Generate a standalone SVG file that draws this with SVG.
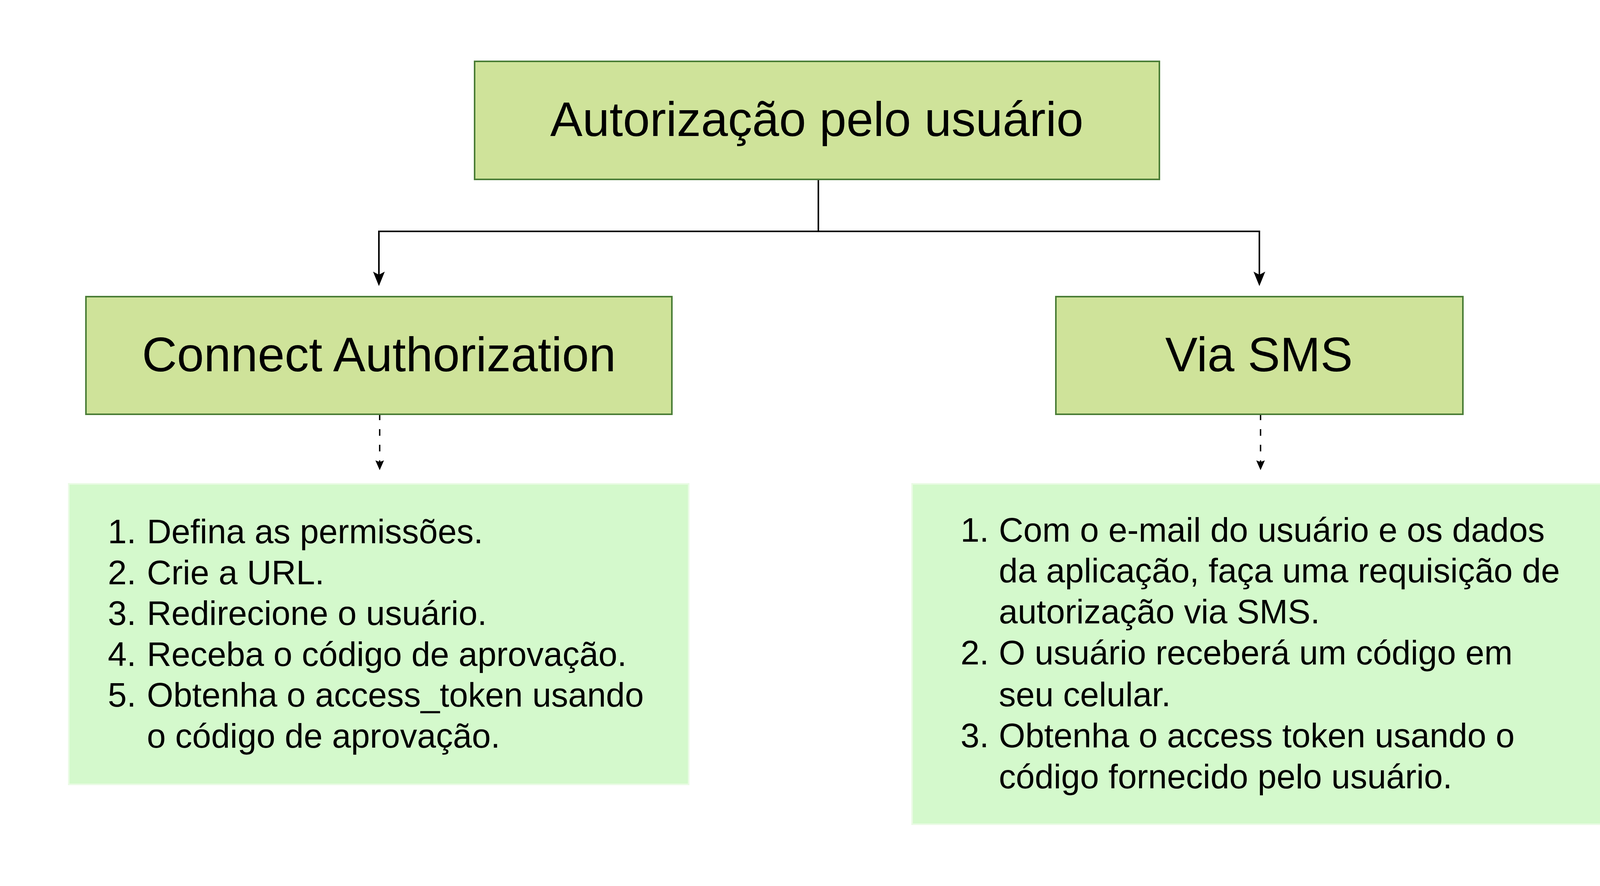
<svg xmlns="http://www.w3.org/2000/svg" width="4300" height="2267" viewBox="0 0 4300 2267">
<style>
.hdr{fill:#cfe39a;stroke:#4a7d36;stroke-width:4}
.note{fill:#d4f9cc;stroke:#eafbe5;stroke-width:4}
.ht{font-family:"Liberation Sans",Arial,sans-serif;font-size:124px;fill:#000;text-anchor:middle}
.lt{font-family:"Liberation Sans",Arial,sans-serif;font-size:87px;fill:#000}
.solid{fill:none;stroke:#000;stroke-width:4}
.dash{fill:none;stroke:#000;stroke-width:3.5;stroke-dasharray:17 23;stroke-dashoffset:4}
</style>
<defs>
<marker id="ah" markerUnits="userSpaceOnUse" markerWidth="40" markerHeight="32" refX="8" refY="0" orient="auto" overflow="visible">
<path d="M0,-15 L37,0 L0,15 L8,0 Z" fill="#000"/>
</marker>
<marker id="ahs" markerUnits="userSpaceOnUse" markerWidth="28" markerHeight="24" refX="4" refY="0" orient="auto" overflow="visible">
<path d="M0,-11 L25,0 L0,11 L4,0 Z" fill="#000"/>
</marker>
</defs>
<rect width="4300" height="2267" fill="#fff"/>
<g id="connectors">
<path class="solid" d="M2095,461 V592"/>
<path class="solid" d="M2095,592 H970 V703" marker-end="url(#ah)"/>
<path class="solid" d="M2095,592 H3224 V703" marker-end="url(#ah)"/>
<path class="dash" d="M972,1062 V1182" marker-end="url(#ahs)"/>
<path class="dash" d="M3227,1062 V1182" marker-end="url(#ahs)"/>
</g>
<g id="root">
<rect class="hdr" x="1215" y="157" width="1753" height="302"/>
<text class="ht" x="2091" y="348">Autorização pelo usuário</text>
</g>
<g id="connect">
<rect class="hdr" x="220" y="759" width="1500" height="301"/>
<text class="ht" x="970" y="950">Connect Authorization</text>
</g>
<g id="sms">
<rect class="hdr" x="2703" y="759" width="1042" height="301"/>
<text class="ht" x="3223" y="950">Via SMS</text>
</g>
<g id="connect-steps">
<rect class="note" x="176" y="1238" width="1587" height="769"/>
<text class="lt" x="276" y="1390">1.</text><text class="lt" x="376" y="1390">Defina as permissões.</text>
<text class="lt" x="276" y="1495">2.</text><text class="lt" x="376" y="1495">Crie a URL.</text>
<text class="lt" x="276" y="1599">3.</text><text class="lt" x="376" y="1599">Redirecione o usuário.</text>
<text class="lt" x="276" y="1704">4.</text><text class="lt" x="376" y="1704">Receba o código de aprovação.</text>
<text class="lt" x="276" y="1808">5.</text><text class="lt" x="376" y="1808">Obtenha o access_token usando</text>
<text class="lt" x="376" y="1913">o código de aprovação.</text>
</g>
<g id="sms-steps">
<rect class="note" x="2335" y="1238" width="1788" height="871"/>
<text class="lt" x="2459" y="1386">1.</text><text class="lt" x="2557" y="1386">Com o e-mail do usuário e os dados</text>
<text class="lt" x="2557" y="1490">da aplicação, faça uma requisição de</text>
<text class="lt" x="2557" y="1595">autorização via SMS.</text>
<text class="lt" x="2459" y="1700">2.</text><text class="lt" x="2557" y="1700">O usuário receberá um código em</text>
<text class="lt" x="2557" y="1807">seu celular.</text>
<text class="lt" x="2459" y="1912">3.</text><text class="lt" x="2557" y="1912">Obtenha o access token usando o</text>
<text class="lt" x="2557" y="2017">código fornecido pelo usuário.</text>
</g>
</svg>
